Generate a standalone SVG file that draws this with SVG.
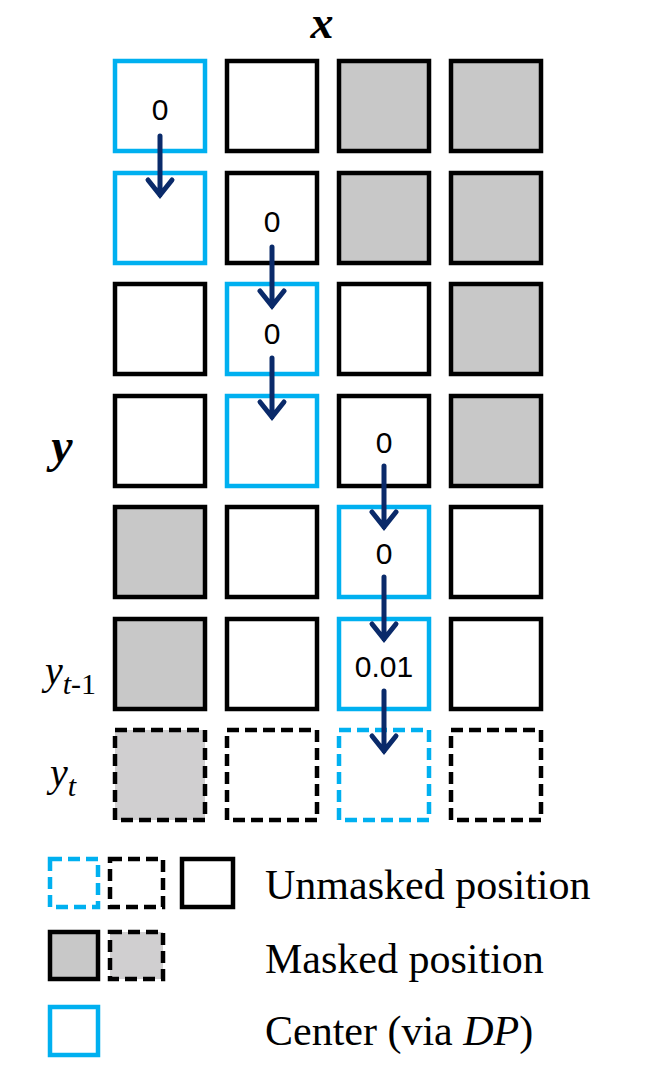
<svg xmlns="http://www.w3.org/2000/svg" width="656" height="1065" viewBox="0 0 656 1065">
<style>
.c{fill:#fff;stroke:#000;stroke-width:4.5}
.b{stroke:#00b0f0}
.m{fill:#c8c8c8}
.md{fill:#d0cfd0}
.d{stroke-dasharray:12,6}
.n{font-family:"Liberation Sans",Arial,sans-serif;font-size:30px;text-anchor:middle}
.t{font-family:"Liberation Serif","Times New Roman",serif;font-size:40px}
.l{font-family:"Liberation Serif","Times New Roman",serif;font-size:42px}
.a{stroke:#0a2a6a;stroke-width:5;fill:none;stroke-linecap:round;stroke-linejoin:miter}
</style>
<rect width="656" height="1065" fill="#fff"/>
<text x="322" y="38" font-family="Liberation Serif,serif" font-size="46" font-weight="bold" font-style="italic" text-anchor="middle">x</text>
<text x="62" y="462" font-family="Liberation Serif,serif" font-size="48" font-weight="bold" font-style="italic" text-anchor="middle">y</text>
<text x="45" y="684" class="t" font-style="italic">y<tspan font-size="30" dy="10">t</tspan><tspan font-size="30" font-style="normal">-1</tspan></text>
<text x="50" y="786" class="t" font-style="italic">y<tspan font-size="30" dy="10">t</tspan></text>
<g id="grid">
<g id="r0"><rect class="c b" x="115" y="61" width="90" height="90"/><rect class="c" x="227" y="61" width="90" height="90"/><rect class="c m" x="339" y="61" width="90" height="90"/><rect class="c m" x="451" y="61" width="90" height="90"/></g>
<g id="r1"><rect class="c b" x="115" y="173" width="90" height="90"/><rect class="c" x="227" y="173" width="90" height="90"/><rect class="c m" x="339" y="173" width="90" height="90"/><rect class="c m" x="451" y="173" width="90" height="90"/></g>
<g id="r2"><rect class="c" x="115" y="284" width="90" height="90"/><rect class="c b" x="227" y="284" width="90" height="90"/><rect class="c" x="339" y="284" width="90" height="90"/><rect class="c m" x="451" y="284" width="90" height="90"/></g>
<g id="r3"><rect class="c" x="115" y="396" width="90" height="90"/><rect class="c b" x="227" y="396" width="90" height="90"/><rect class="c" x="339" y="396" width="90" height="90"/><rect class="c m" x="451" y="396" width="90" height="90"/></g>
<g id="r4"><rect class="c m" x="115" y="507" width="90" height="90"/><rect class="c" x="227" y="507" width="90" height="90"/><rect class="c b" x="339" y="507" width="90" height="90"/><rect class="c" x="451" y="507" width="90" height="90"/></g>
<g id="r5"><rect class="c m" x="115" y="619" width="90" height="90"/><rect class="c" x="227" y="619" width="90" height="90"/><rect class="c b" x="339" y="619" width="90" height="90"/><rect class="c" x="451" y="619" width="90" height="90"/></g>
<g id="r6"><rect class="c md d" x="115" y="730" width="90" height="90"/><rect class="c d" x="227" y="730" width="90" height="90"/><rect class="c b d" x="339" y="730" width="90" height="90"/><rect class="c d" x="451" y="730" width="90" height="90"/></g>
</g>
<g id="values">
<text class="n" x="160" y="120">0</text>
<text class="n" x="272" y="232">0</text>
<text class="n" x="272" y="344">0</text>
<text class="n" x="384" y="453">0</text>
<text class="n" x="384" y="564">0</text>
<text class="n" x="384" y="677">0.01</text>
</g>
<g id="connectors">
<path class="a" d="M160 136V195M148 180L160 195L172 180"/>
<path class="a" d="M272 247V306M260 291L272 306L284 291"/>
<path class="a" d="M272 358V417M260 402L272 417L284 402"/>
<path class="a" d="M384 466V527M372 512L384 527L396 512"/>
<path class="a" d="M384 577V639M372 624L384 639L396 624"/>
<path class="a" d="M384 691V751M372 736L384 751L396 736"/>
</g>
<g id="legend">
<rect class="c b d" x="50" y="859" width="48" height="48"/>
<rect class="c d" x="110" y="859" width="53" height="48"/>
<rect class="c" x="182" y="859" width="51" height="48"/>
<rect class="c m" x="50" y="932" width="48" height="47"/>
<rect class="c md d" x="110" y="932" width="53" height="47"/>
<rect class="c b" x="50" y="1007" width="48" height="48"/>
<text class="l" x="265" y="899">Unmasked position</text>
<text class="l" x="265" y="973">Masked position</text>
<text class="l" x="265" y="1045">Center (via <tspan font-style="italic">DP</tspan>)</text>
</g>
</svg>
